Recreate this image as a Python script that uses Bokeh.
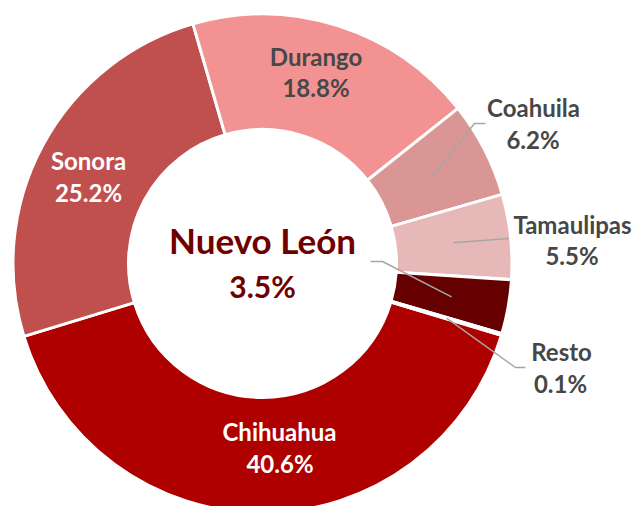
import math
from bokeh.plotting import figure
from bokeh.models import Range1d
from bokeh.core.properties import value
from bokeh.embed import file_html
from bokeh.resources import INLINE

# ---- data ----
states = ["Chihuahua", "Sonora", "Durango", "Coahuila", "Tamaulipas", "Nuevo León", "Resto"]
shares = [40.6, 25.2, 18.8, 6.2, 5.5, 3.5, 0.1]
pct_labels = ["40.6%", "25.2%", "18.8%", "6.2%", "5.5%", "3.5%", "0.1%"]

# ---- style ----
colors = ["#AF0000", "#C0504D", "#F29292", "#D99694", "#E6B9B8", "#660000", "#B00000"]
W, H = 636, 506
CX, CY = 262, H - 263          # donut centre (data units = pixels)
R_OUT, R_IN = 249.5, 134
FIRST_ANGLE = 106.7            # degrees clockwise from 12 o'clock
FONT = value("Lato")
GRAY_TXT = "#474747"
LEADER = "#A6A6A6"
BASE_SHIFT = 0.38              # empirical baseline correction (em)

p = figure(width=W, height=H, output_backend="svg", toolbar_location=None,
           x_range=Range1d(0, W), y_range=Range1d(0, H), min_border=0)
p.axis.visible = False
p.grid.visible = False
p.outline_line_color = None
p.background_fill_color = "white"

total = sum(shares)
starts, ends, mids = [], [], []
acc = FIRST_ANGLE
for s in shares:
    a0 = acc
    a1 = acc + s / total * 360.0
    starts.append(math.radians(90 - a0))
    ends.append(math.radians(90 - a1))
    mids.append((a0 + a1) / 2)
    acc = a1

p.annular_wedge(x=CX, y=CY, inner_radius=R_IN, outer_radius=R_OUT,
                start_angle=starts, end_angle=ends, direction="clock",
                fill_color=colors, line_color="white", line_width=3)

def polar(theta_deg, r):
    t = math.radians(theta_deg)
    return CX + r * math.sin(t), CY + r * math.cos(t)

def put(x, y_px, txt, size, col):
    y = H - (y_px - BASE_SHIFT * size)
    p.text(x=[x], y=[y], text=[txt], text_font=FONT, text_font_style="bold",
           text_font_size=f"{size}px", text_color=col, text_align="center",
           text_baseline="alphabetic")

# label layout: (name x, name baseline y(px from top), pct x, pct baseline, color)
layout = {
    "Chihuahua": (279, 440, 279.5, 472, "white"),
    "Sonora": (88, 169, 88, 201, "white"),
    "Durango": (315.5, 65, 315.5, 96, GRAY_TXT),
    "Coahuila": (533, 116, 532.5, 148, GRAY_TXT),
    "Tamaulipas": (572, 233, 571.5, 264, GRAY_TXT),
    "Resto": (561, 360, 560, 392, GRAY_TXT),
}

for i, name in enumerate(states):
    if name not in layout:
        continue
    nx, ny, px, py, col = layout[name]
    put(nx, ny, name, 24, col)
    put(px, py, pct_labels[i], 24, col)

# centre label for Nuevo León
inl = states.index("Nuevo León")
put(262, 253, states[inl], 35, "#700000")
put(262, 297, pct_labels[inl], 30, "#700000")

# leader lines: label-side points in px, then end at slice mid-angle
leaders = {
    "Coahuila": [(485, 123), (474, 123)],
    "Tamaulipas": [(508, 238)],
    "Nuevo León": [(370, 261), (382, 261)],
    "Resto": [(525, 367), (515, 367)],
}
for name, pts in leaders.items():
    i = states.index(name)
    ex, ey = polar(mids[i], 192)
    xs = [x for x, _ in pts] + [ex]
    ys = [H - y for _, y in pts] + [ey]
    p.line(xs, ys, line_color=LEADER, line_width=1.5)

open("out.html", "w").write(file_html(p, INLINE))
